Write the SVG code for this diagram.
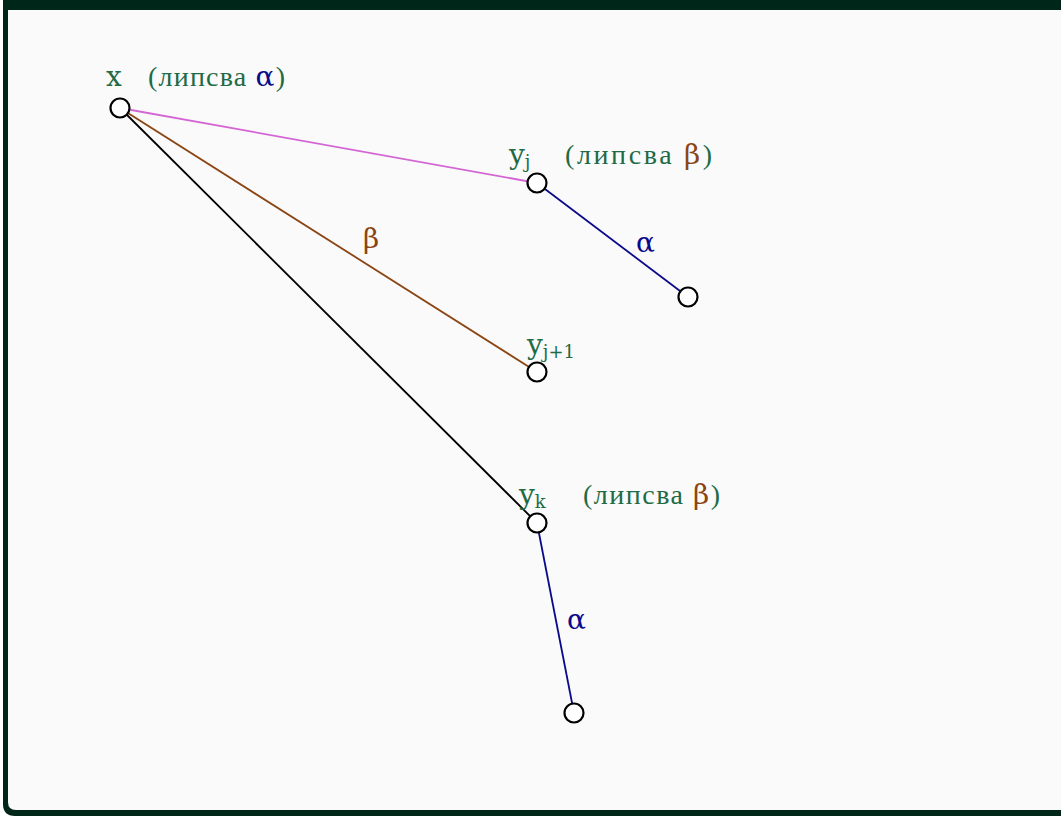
<svg xmlns="http://www.w3.org/2000/svg" width="1061" height="816" viewBox="0 0 1061 816">
<style>
.lbl{font-family:"Liberation Serif",serif;font-size:28px;fill:#1e6b45}
.m{font-family:"DejaVu Serif","Liberation Serif",serif}
.nd{fill:#ffffff;stroke:#000000;stroke-width:2.2}
.e{fill:none;stroke-width:1.8}
.a{fill:#0a0a8a}
.b{fill:#8b4513}
.s{font-size:18px}
</style>
<path d="M3,-2 H1070 V816 H15 Q3,816 3,804 Z" fill="#00261a"/>
<path d="M8,10 H1070 V810 H16 Q8,810 8,802 Z" fill="#fafafa"/>
<g id="connectors">
<line class="e" x1="120" y1="108" x2="537" y2="183" stroke="#d466d4"/>
<line class="e" x1="120" y1="108" x2="537" y2="372" stroke="#8b4513"/>
<line class="e" x1="120" y1="108" x2="537" y2="523" stroke="#000000"/>
<line class="e" x1="537" y1="183" x2="688" y2="297" stroke="#0a0a8a"/>
<line class="e" x1="537" y1="523" x2="574" y2="713" stroke="#0a0a8a"/>
<text class="lbl m b" x="363" y="248" font-size="22">β</text>
<text class="lbl m a" x="636" y="252" font-size="22">α</text>
<text class="lbl m a" x="567" y="629" font-size="22">α</text>
</g>
<g id="node-x">
<circle class="nd" cx="120" cy="108" r="9.5"/>
<text class="lbl m" x="106" y="86">x</text>
<text class="lbl" x="148" y="86" textLength="137" lengthAdjust="spacing">(липсва <tspan class="m a">α</tspan>)</text>
</g>
<g id="node-yj">
<circle class="nd" cx="537" cy="183" r="9.5"/>
<text class="lbl m" x="509" y="164">y<tspan class="s" dy="4">j</tspan></text>
<text class="lbl" x="565" y="164" textLength="147" lengthAdjust="spacing">(липсва <tspan class="m b">β</tspan>)</text>
</g>
<g id="node-yj-alpha">
<circle class="nd" cx="688" cy="297" r="9.5"/>
</g>
<g id="node-yj1">
<circle class="nd" cx="537" cy="372" r="9.5"/>
<text class="lbl m" x="527" y="354">y<tspan class="s" dy="4">j+1</tspan></text>
</g>
<g id="node-yk">
<circle class="nd" cx="537" cy="523" r="9.5"/>
<text class="lbl m" x="519" y="504">y<tspan class="s" dy="4">k</tspan></text>
<text class="lbl" x="583" y="504" textLength="137" lengthAdjust="spacing">(липсва <tspan class="m b">β</tspan>)</text>
</g>
<g id="node-yk-alpha">
<circle class="nd" cx="574" cy="713" r="9.5"/>
</g>
</svg>
